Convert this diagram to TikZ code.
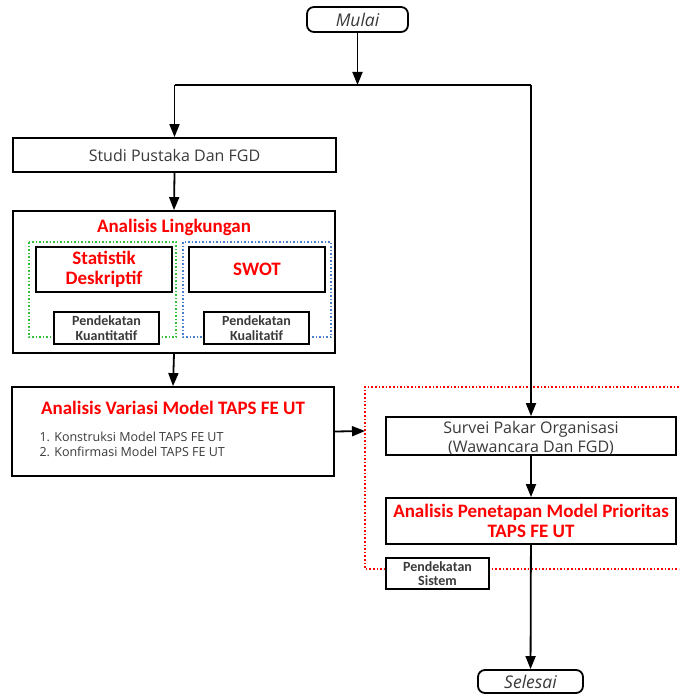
\documentclass[tikz,border=0pt]{standalone}
\usepackage{fontspec}
\setmainfont{Open Sans}
\newfontfamily\carfont{Carlito}
\usetikzlibrary{arrows.meta,positioning}
\definecolor{rd}{HTML}{FF0000}
\definecolor{gr}{HTML}{33C03A}
\definecolor{bl}{HTML}{4A7FD0}
\definecolor{tx}{HTML}{3A3A3A}
\tikzset{
  box/.style={draw=black,line width=1.8pt,fill=white,inner sep=0pt,align=center},
  term/.style={box,rounded corners=7pt},
  arr/.style={line width=1.8pt,-{Triangle[width=10pt,length=13pt]}},
  ln/.style={line width=1.8pt},
  reg/.style={font=\fontsize{16}{19}\selectfont,text=tx},
  ttl/.style={font=\carfont\bfseries\fontsize{19}{20}\selectfont,text=rd},
  sml/.style={font=\carfont\bfseries\fontsize{14}{14.5}\selectfont,text=tx},
  trm/.style={font=\itshape\fontsize{17.5}{18}\selectfont,text=tx},
}
\begin{document}
\begin{tikzpicture}[x=1pt,y=-1pt]
\useasboundingbox (0,0) rectangle (679,695);
% terminals
\node[term,minimum width=101pt,minimum height=25pt,trm] (mulai) at (357.5,19.5) {Mulai};
\node[term,minimum width=105pt,minimum height=23pt,trm] (selesai) at (530.5,681.5) {Selesai};
% studi
\node[box,minimum width=323pt,minimum height=34pt,reg] (studi) at (174.5,155) {Studi Pustaka Dan FGD};
% lingkungan outer
\node[box,minimum width=322pt,minimum height=142pt] (ling) at (174,282) {};
\node[ttl] (lingt) at (174,227) {Analisis Lingkungan};
\draw[gr,line width=1.5pt,dotted] (29,242) rectangle (176,337);
\draw[bl,line width=1.5pt,dotted] (183,242) rectangle (331,337);
\node[box,minimum width=136pt,minimum height=45pt,ttl] (stat) at (104,269.5) {Statistik\\Deskriptif};
\node[box,minimum width=136pt,minimum height=45pt,ttl] (swot) at (257,269.5) {SWOT};
\node[box,minimum width=105pt,minimum height=32pt,sml] (kuan) at (106.5,328) {Pendekatan\\Kuantitatif};
\node[box,minimum width=105pt,minimum height=32pt,sml] (kual) at (256.5,328) {Pendekatan\\Kualitatif};
% variasi
\node[box,minimum width=322pt,minimum height=89pt] (var) at (173,431.5) {};
\node[ttl] (vart) at (173,408) {Analisis Variasi Model TAPS FE UT};
\node[anchor=west,align=left,font=\fontsize{12.5}{15}\selectfont,text=tx] (varl) at (36,444.5) {1. Konstruksi Model TAPS FE UT\\2. Konfirmasi Model TAPS FE UT};
% red dotted region
\draw[rd,line width=1.6pt,dotted] (679,387) -- (365,387) -- (365,569) -- (679,569);
\coordinate (redl) at (365,431);
% survei
\node[box,minimum width=290pt,minimum height=38pt,reg] (survei) at (531,436) {};
\node[reg,align=center] (surveit) at (531,438) {Survei Pakar Organisasi\\(Wawancara Dan FGD)};
\node[box,minimum width=290pt,minimum height=46pt,ttl] (penet) at (531,521) {Analisis Penetapan Model Prioritas\\TAPS FE UT};
\node[box,minimum width=103pt,minimum height=31pt,sml] (sist) at (437.5,573.5) {Pendekatan\\Sistem};
% connectors
\coordinate (j) at (357.5,85);
\coordinate (jl) at (174.5,85);
\coordinate (jr) at (531,85);
\draw[arr] (mulai) -- (j);
\draw[ln] (jl) -- (jr);
\draw[arr] (jl) -- (studi.north);
\draw[arr] (jr) -- (survei.north);
\draw[arr] (studi.south) -- (ling.north);
\draw[arr] (ling.south) -- (var.north);
\draw[arr] (var.east) -- (redl);
\draw[arr] (survei) -- (penet);
\draw[arr] (penet) -- (selesai);
\end{tikzpicture}
\end{document}
